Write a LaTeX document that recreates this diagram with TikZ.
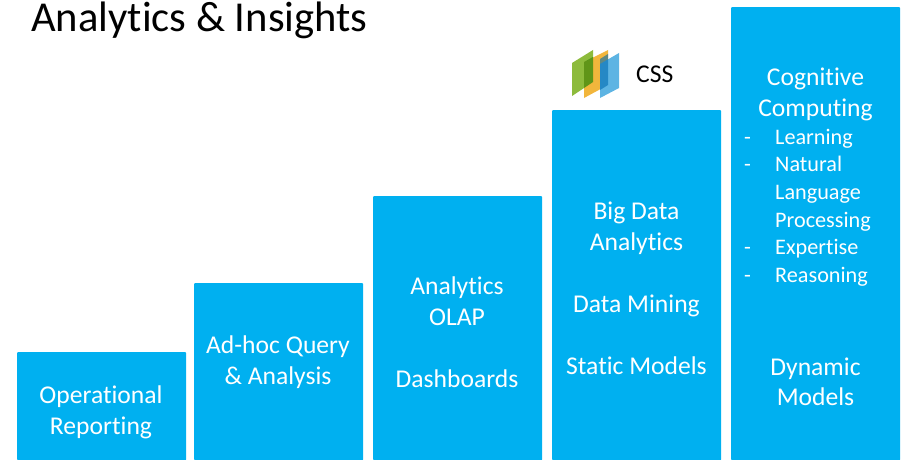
\documentclass[tikz,border=0pt]{standalone}
\usepackage{fontspec}
\setmainfont[Ligatures={NoCommon,NoContextual},RawFeature={-liga;-clig;-calt;-dlig}]{Carlito}
\definecolor{barblue}{HTML}{00B0F0}
\definecolor{logogreen}{HTML}{8DBB3C}
\definecolor{logoorange}{HTML}{F2B63C}
\definecolor{logoblue}{HTML}{5DB4E3}
\tikzset{
	bar/.style={fill=barblue, draw=none, rounded corners=.8pt, inner sep=0pt, anchor=north west},
	bartext/.style={text=white, font=\fontsize{25.6}{25.6}\selectfont, anchor=base, inner sep=0pt},
	listtext/.style={text=white, font=\fontsize{22.2}{22.2}\selectfont, anchor=base west, inner sep=0pt},
	title/.style={font=\fontsize{42.6}{42.6}\selectfont, anchor=base west, inner sep=0pt}
}
\begin{document}
\begin{tikzpicture}[x=1pt, y=-1pt, line join=round]
	\useasboundingbox (0,0) rectangle (902,460);
	\node[title] (heading) at (31,32) {Analytics \& Insights};
	% steps
	\foreach \n/\x/\y in {a/17/352,b/194/283,c/373/196,d/552/110,e/731/7}
		\node[bar, minimum width=169pt, minimum height={(460-\y)*1pt}] (bar\n) at (\x,\y) {};
	% centred lines
	\foreach \n/\x/\y/\txt in {
		a1/101/403/Operational, a2/101/434/Reporting,
		b1/278/353/Ad-hoc Query, b2/278/384/{\& Analysis},
		c1/457/294/Analytics, c2/457/325/OLAP, c3/457/387/Dashboards,
		d1/636.5/219/Big Data, d2/636.5/250/Analytics, d3/636.5/312/Data Mining, d4/636.5/374/Static Models,
		e1/815.5/85/Cognitive, e2/815.5/116/Computing, e3/815.5/375/Dynamic, e4/815.5/405/Models}
		\node[bartext] (line\n) at (\x,\y) {\txt};
	% list in the last step
	\foreach \n/\y in {1/144, 2/171, 5/254, 6/282}
		\node[listtext] (dash\n) at (744,\y) {-};
	\foreach \n/\y/\txt in {1/144/Learning, 2/171/Natural, 3/199/Language, 4/227/Processing, 5/254/Expertise, 6/282/Reasoning}
		\node[listtext] (item\n) at (775,\y) {\txt};
	% logo
	\fill[logogreen] (572,63)--(593,50)--(593,82)--(572,96)--cycle;
	\fill[logoorange] (584,62)--(608,50)--(608,85)--(584,98)--cycle;
	\fill[logoblue] (600,64)--(619,53)--(619,88)--(600,98)--cycle;
	\fill[green!50!black, opacity=.6] (584,62)--(593,57)--(593,82)--(584,88)--cycle;
	\fill[blue!40!cyan!70!black, opacity=.6] (600,59)--(608,54)--(608,85)--(600,90)--cycle;
	\node[font=\fontsize{25.6}{25.6}\selectfont, anchor=base west, inner sep=0pt, draw=none] (logotext) at (636,82) {CSS};
\end{tikzpicture}
\end{document}
